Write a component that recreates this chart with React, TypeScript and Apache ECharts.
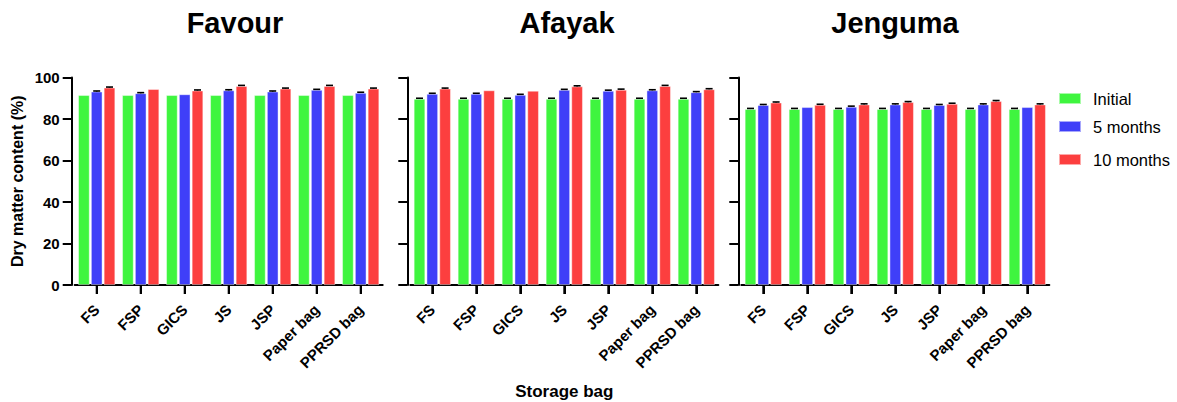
import React, { useEffect, useRef } from "react";
import * as echarts from "echarts";

// Storage bags on the category axis
const bags = ["FS", "FSP", "GICS", "JS", "JSP", "Paper bag", "PPRSD bag"];
const periods = ["Initial", "5 months", "10 months"];
const colors = ["#3ff53f", "#3f3ff8", "#fc3f3f"];
const yTicks = [0, 20, 40, 60, 80, 100];

// Dry matter content (%) per variety
const favourInitial = [91.5, 91.5, 91.5, 91.5, 91.5, 91.5, 91.5];
const favour5m = [93.2, 92.4, 91.9, 93.8, 93.2, 94.0, 92.6];
const favour10m = [95.1, 94.4, 93.7, 95.9, 94.6, 95.9, 94.6];

const afayakInitial = [89.7, 89.7, 89.7, 89.7, 89.7, 89.7, 89.7];
const afayak5m = [92.1, 92.1, 91.6, 94.0, 93.6, 93.8, 92.9];
const afayak10m = [94.6, 93.8, 93.6, 95.7, 94.1, 95.9, 94.3];

const jengumaInitial = [84.8, 84.8, 84.8, 84.8, 84.8, 84.8, 84.8];
const jenguma5m = [86.7, 85.7, 85.9, 87.0, 86.7, 87.0, 85.7];
const jenguma10m = [87.9, 86.8, 87.0, 88.1, 87.3, 88.6, 87.0];

// Standard errors
const favourErrInitial = [0, 0, 0, 0, 0, 0, 0];
const favourErr5m = [0.3, 0.3, 0, 0.3, 0.3, 0.3, 0.3];
const favourErr10m = [0.3, 0, 0.3, 0.3, 0.3, 0.3, 0.3];
const afayakErrInitial = [0.3, 0.3, 0.3, 0.3, 0.3, 0.3, 0.3];
const afayakErr5m = [0.3, 0.3, 0.3, 0.3, 0.3, 0.3, 0.3];
const afayakErr10m = [0.3, 0, 0, 0.3, 0.3, 0.3, 0.3];
const jengumaErrInitial = [0.3, 0.3, 0.3, 0.3, 0.3, 0.3, 0.3];
const jengumaErr5m = [0.3, 0, 0.3, 0.3, 0.3, 0.3, 0];
const jengumaErr10m = [0.3, 0.3, 0.3, 0.3, 0.3, 0.3, 0.3];

const panels = [
  { title: "Favour", values: [favourInitial, favour5m, favour10m], errors: [favourErrInitial, favourErr5m, favourErr10m] },
  { title: "Afayak", values: [afayakInitial, afayak5m, afayak10m], errors: [afayakErrInitial, afayakErr5m, afayakErr10m] },
  { title: "Jenguma", values: [jengumaInitial, jenguma5m, jenguma10m], errors: [jengumaErrInitial, jengumaErr5m, jengumaErr10m] },
];

const FONT = "'Liberation Sans', Arial, Helvetica, sans-serif";
const BAR_W = 11.5;
const BAR_GAP = 1.3;
const TICK_LEN = 9;
const gridLefts = [74.7, 410.3, 741.3];
const GRID_W = 308;
const GRID_TOP = 77.5;
const GRID_H = 207.5;

export default function App() {
  const ref = useRef<HTMLDivElement>(null);

  useEffect(() => {
    if (!ref.current) return;
    const chart = echarts.init(ref.current, undefined, { renderer: "svg" });

    const grids = gridLefts.map((left) => ({
      left,
      top: GRID_TOP,
      width: GRID_W,
      height: GRID_H,
      containLabel: false,
      outerBoundsMode: "none",
    }));

    const xAxes = panels.map((_, i) => ({
      type: "category",
      gridIndex: i,
      data: bags,
      name: i === 1 ? "Storage bag" : "",
      nameLocation: "middle",
      nameGap: 98,
      nameTextStyle: { fontFamily: FONT, fontWeight: "bold", fontSize: 17, color: "#000" },
      axisLine: { show: true, onZero: false, lineStyle: { color: "#000", width: 2 } },
      axisTick: { show: true, inside: false, alignWithLabel: true, interval: 0, length: TICK_LEN, lineStyle: { color: "#000", width: 2 } },
      axisLabel: { rotate: 45, margin: 22, interval: 0, fontFamily: FONT, fontWeight: "bold", fontSize: 15, color: "#000" },
    }));

    const yAxes = panels.map((_, i) => ({
      type: "value",
      gridIndex: i,
      min: 0,
      max: 100,
      interval: 20,
      offset: 3,
      name: i === 0 ? "Dry matter content (%)" : "",
      nameLocation: "middle",
      nameGap: 46,
      nameTextStyle: { fontFamily: FONT, fontWeight: "bold", fontSize: 16, color: "#000" },
      splitLine: { show: false },
      axisLine: { show: true, lineStyle: { color: "#000", width: 2 } },
      axisTick: { show: true, length: TICK_LEN, lineStyle: { color: "#000", width: 2 } },
      axisLabel: {
        show: i === 0,
        margin: 12,
        fontFamily: FONT,
        fontWeight: "bold",
        fontSize: 15,
        color: "#000",
        formatter: (v: number) => (yTicks.includes(v) ? String(v) : ""),
      },
    }));

    const series: any[] = [];
    panels.forEach((p, i) => {
      periods.forEach((name, k) => {
        series.push({
          type: "bar",
          name,
          xAxisIndex: i,
          yAxisIndex: i,
          data: p.values[k],
          barWidth: BAR_W,
          barGap: `${(BAR_GAP / BAR_W) * 100}%`,
          itemStyle: { color: colors[k], borderColor: "rgba(255,255,255,0.55)", borderWidth: 0.8 },
        });
      });

      // Error bars on top of each bar
      const errData: number[][] = [];
      periods.forEach((_, k) => {
        p.values[k].forEach((v, c) => errData.push([c, v, p.errors[k][c], k]));
      });
      series.push({
        type: "custom",
        xAxisIndex: i,
        yAxisIndex: i,
        encode: { x: 0, y: 1 },
        z: 5,
        clip: false,
        silent: true,
        data: errData,
        renderItem: (_params: any, api: any) => {
          const c = api.value(0);
          const v = api.value(1);
          const e = api.value(2);
          const k = api.value(3);
          if (!(e > 0)) return { type: "group", children: [] };
          const base = api.coord([c, v]);
          const top = api.coord([c, v + e]);
          const x = base[0] + (k - 1) * (BAR_W + BAR_GAP);
          const style = { stroke: "#000", lineWidth: 1.6 };
          return {
            type: "group",
            children: [
              { type: "line", shape: { x1: x, y1: base[1], x2: x, y2: top[1] }, style },
              { type: "line", shape: { x1: x - 3.5, y1: top[1], x2: x + 3.5, y2: top[1] }, style },
            ],
          };
        },
      });
    });

    const legendTops = [90, 118, 151];
    const legends = periods.map((name, k) => ({
      data: [name],
      left: 1058,
      top: legendTops[k],
      padding: 0,
      icon: "rect",
      itemWidth: 22,
      itemHeight: 11,
      textStyle: { fontFamily: FONT, fontSize: 16.5, color: "#000", padding: [0, 0, 0, 7] },
      selectedMode: false,
    }));

    const titleCenters = [235, 567, 895];
    const titles = panels.map((p, i) => ({
      text: p.title,
      left: titleCenters[i],
      top: 8,
      textAlign: "center",
      padding: 0,
      textStyle: { fontFamily: FONT, fontWeight: "bold", fontSize: 29, color: "#000" },
    }));

    chart.setOption({
      animation: false,
      backgroundColor: "#fff",
      title: titles,
      legend: legends,
      grid: grids,
      xAxis: xAxes,
      yAxis: yAxes,
      series,
    });

    // Category ticks under each x-axis; positions come from the axis scales,
    // with the grid's band layout as a fallback
    const bandW = GRID_W / bags.length;
    const tickRects: any[] = [];
    panels.forEach((_, i) => {
      bags.forEach((_b, c) => {
        let pt: any = null;
        try {
          pt = chart.convertToPixel({ gridIndex: i }, [c, 0]);
        } catch (err) {
          pt = null;
        }
        const x = pt && isFinite(pt[0]) ? pt[0] : gridLefts[i] + bandW * (c + 0.5);
        const y = pt && isFinite(pt[1]) ? pt[1] : GRID_TOP + GRID_H;
        tickRects.push({
          type: "rect",
          silent: true,
          z: 100,
          x: x - 1,
          y,
          shape: { x: 0, y: 0, width: 2, height: TICK_LEN },
          style: { fill: "#000" },
        });
      });
    });
    chart.setOption({ graphic: tickRects });

    return () => chart.dispose();
  }, []);

  return (
    <div
      ref={ref}
      style={{ position: "fixed", left: 0, top: 0, width: 1177, height: 402, background: "#fff" }}
    />
  );
}
